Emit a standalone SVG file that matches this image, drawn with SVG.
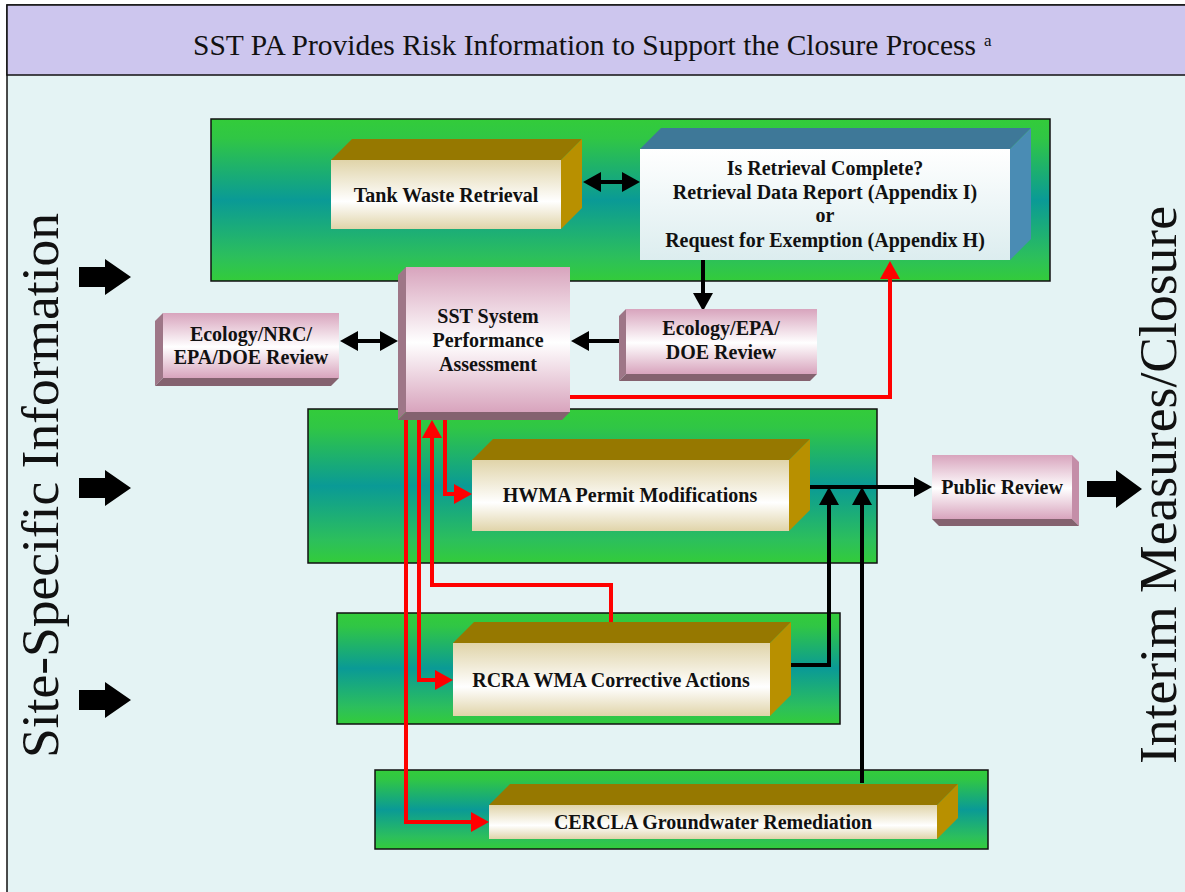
<svg xmlns="http://www.w3.org/2000/svg" width="1185" height="892" viewBox="0 0 1185 892">
<defs>
<linearGradient id="gg" x1="0" y1="0" x2="0" y2="1">
<stop offset="0" stop-color="#33cc3a"/><stop offset="0.12" stop-color="#30c645"/><stop offset="0.5" stop-color="#0a9a96"/><stop offset="0.85" stop-color="#2cbf5c"/><stop offset="1" stop-color="#33cc3a"/>
</linearGradient>
<linearGradient id="tan" x1="0" y1="0" x2="0" y2="1">
<stop offset="0" stop-color="#e0d4a9"/><stop offset="0.6" stop-color="#ffffff"/><stop offset="1" stop-color="#e0d4a9"/>
</linearGradient>
<linearGradient id="blu" x1="0" y1="0" x2="0" y2="1">
<stop offset="0" stop-color="#ffffff"/><stop offset="1" stop-color="#dcedef"/>
</linearGradient>
<linearGradient id="pnk" x1="0" y1="0" x2="0" y2="1">
<stop offset="0" stop-color="#d8a4bd"/><stop offset="0.52" stop-color="#ffffff"/><stop offset="1" stop-color="#d8a4bd"/>
</linearGradient>
<marker id="ab" viewBox="0 0 18 20" refX="0" refY="10" markerWidth="18" markerHeight="20" orient="auto-start-reverse" markerUnits="userSpaceOnUse"><path d="M0,0 L18,10 L0,20 z" fill="#000"/></marker>
<marker id="ar" viewBox="0 0 18 20" refX="0" refY="10" markerWidth="18" markerHeight="20" orient="auto-start-reverse" markerUnits="userSpaceOnUse"><path d="M0,0 L18,10 L0,20 z" fill="#ff0000"/></marker>
</defs>
<style>
.grn{fill:url(#gg);stroke:#111;stroke-width:1.5}
.tanf{fill:url(#tan)}
.tant{fill:#967800}
.tanr{fill:#b89000}
.pf{fill:url(#pnk)}
.pl{fill:#9e7687}
.pb{fill:#84626f}
.pr{fill:#c48ea8}
.serif{font-family:"Liberation Serif","Times New Roman",serif;fill:#111}
.lbl{font-family:"Liberation Serif","Times New Roman",serif;font-weight:bold;font-size:20px;fill:#111;text-anchor:middle}
.big{font-family:"Liberation Serif","Times New Roman",serif;font-size:53px;fill:#111}
.cb{fill:none;stroke:#000;stroke-width:4}
.cr{fill:none;stroke:#ff0000;stroke-width:4}
.blk{fill:#000}
</style>
<rect x="0" y="0" width="1185" height="892" fill="#ffffff"/>
<rect x="7" y="5" width="1190" height="900" fill="#e4f3f4" stroke="#111" stroke-width="1.5"/>
<rect x="7" y="5" width="1190" height="70" fill="#cdc6ee" stroke="#111" stroke-width="1.5"/>
<text class="serif" x="193" y="55" font-size="29" textLength="783" lengthAdjust="spacingAndGlyphs">SST PA Provides Risk Information to Support the Closure Process</text>
<text class="serif" x="984" y="46" font-size="17">a</text>

<text class="big" transform="translate(58,758) rotate(-90)" textLength="545" lengthAdjust="spacingAndGlyphs">Site-Specific Information</text>
<text class="big" transform="translate(1176,764) rotate(-90)" textLength="558" lengthAdjust="spacingAndGlyphs">Interim Measures/Closure</text>

<g id="inputArrows">
<path class="blk" d="M79,267 H105 V259 L131,277 L105,295 V287 H79 z"/>
<path class="blk" d="M79,478 H105 V470 L131,488 L105,506 V498 H79 z"/>
<path class="blk" d="M79,690 H105 V682 L131,700 L105,718 V710 H79 z"/>
<path class="blk" d="M1087,481 H1116 V470 L1142,489 L1116,508 V497 H1087 z"/>
</g>

<g id="panels">
<rect class="grn" x="211" y="119" width="839" height="162"/>
<rect class="grn" x="308" y="409" width="569" height="154"/>
<rect class="grn" x="337" y="613" width="503" height="111"/>
<rect class="grn" x="375" y="770" width="613" height="79"/>
</g>

<g id="connectors">
<path class="cb" d="M601,182 H622" marker-start="url(#ab)" marker-end="url(#ab)"/>
<path class="cb" d="M703,260 V293" marker-end="url(#ab)"/>
<path class="cb" d="M619,341 H589" marker-end="url(#ab)"/>
<path class="cb" d="M358,341 H380" marker-start="url(#ab)" marker-end="url(#ab)"/>
<path class="cr" d="M570,397 H890 V279" marker-end="url(#ar)"/>
<path class="cr" d="M445,418 V494 H454" marker-end="url(#ar)"/>
<path class="cr" d="M611,623 V585 H432 V438" marker-end="url(#ar)"/>
<path class="cr" d="M419,418 V680 H435" marker-end="url(#ar)"/>
<path class="cr" d="M406,418 V822 H471" marker-end="url(#ar)"/>
<path class="cb" d="M808,487 H914" marker-end="url(#ab)"/>
<path class="cb" d="M791,665 H829 V505" marker-end="url(#ab)"/>
<path class="cb" d="M862,783 V505" marker-end="url(#ab)"/>
</g>

<g id="tankWasteRetrieval">
<polygon class="tant" points="331,160 352,139 582,139 561,160"/>
<polygon class="tanr" points="561,160 582,139 582,208 561,229"/>
<rect class="tanf" x="331" y="160" width="230" height="69"/>
<text class="lbl" x="446" y="202">Tank Waste Retrieval</text>
</g>

<g id="isRetrievalComplete">
<polygon fill="#3e7898" points="640,149 661,128 1031,128 1010,149"/>
<polygon fill="#4a8cb4" points="1010,149 1031,128 1031,239 1010,260"/>
<rect fill="url(#blu)" x="640" y="149" width="370" height="111"/>
<text class="lbl" x="825" y="175">Is Retrieval Complete?</text>
<text class="lbl" x="825" y="199">Retrieval Data Report (Appendix I)</text>
<text class="lbl" x="825" y="222">or</text>
<text class="lbl" x="825" y="247">Request for Exemption (Appendix H)</text>
</g>

<g id="sstPA">
<polygon class="pl" points="406,267 398,275 398,420 406,412"/>
<polygon class="pb" points="406,412 398,420 562,420 570,412"/>
<rect class="pf" x="406" y="267" width="164" height="145"/>
<text class="lbl" x="488" y="323">SST System</text>
<text class="lbl" x="488" y="347">Performance</text>
<text class="lbl" x="488" y="371">Assessment</text>
</g>

<g id="ecologyNRC">
<polygon class="pl" points="163,313 155,321 155,386 163,378"/>
<polygon class="pb" points="163,378 155,386 331,386 339,378"/>
<rect class="pf" x="163" y="313" width="176" height="65"/>
<text class="lbl" x="251" y="341">Ecology/NRC/</text>
<text class="lbl" x="251" y="364">EPA/DOE Review</text>
</g>

<g id="ecologyEPA">
<polygon class="pl" points="626,309 619,316 619,381 626,374"/>
<polygon class="pb" points="626,374 619,381 810,381 817,374"/>
<rect class="pf" x="626" y="309" width="191" height="65"/>
<text class="lbl" x="721" y="335">Ecology/EPA/</text>
<text class="lbl" x="721" y="359">DOE Review</text>
</g>

<g id="hwma">
<polygon class="tant" points="472,460 493,439 810,439 789,460"/>
<polygon class="tanr" points="789,460 810,439 810,510 789,531"/>
<rect class="tanf" x="472" y="460" width="317" height="71"/>
<text class="lbl" x="630" y="502">HWMA Permit Modifications</text>
</g>

<g id="rcra">
<polygon class="tant" points="453,643 474,622 791,622 770,643"/>
<polygon class="tanr" points="770,643 791,622 791,695 770,716"/>
<rect class="tanf" x="453" y="643" width="317" height="73"/>
<text class="lbl" x="611" y="687">RCRA WMA Corrective Actions</text>
</g>

<g id="cercla">
<polygon class="tant" points="489,805 510,784 958,784 937,805"/>
<polygon class="tanr" points="937,805 958,784 958,818 937,839"/>
<rect class="tanf" x="489" y="805" width="448" height="34"/>
<text class="lbl" x="713" y="829">CERCLA Groundwater Remediation</text>
</g>

<g id="publicReview">
<polygon class="pr" points="1072,455 1079,462 1079,526 1072,519"/>
<polygon class="pb" points="932,519 939,526 1079,526 1072,519"/>
<rect class="pf" x="932" y="455" width="140" height="64"/>
<text class="lbl" x="1002" y="494">Public Review</text>
</g>
</svg>
